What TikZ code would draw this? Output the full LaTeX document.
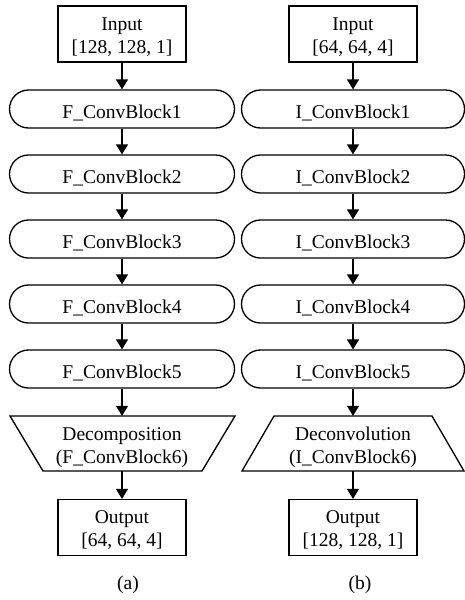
\documentclass[tikz,border=0pt]{standalone}
\usepackage{fontspec}
\setmainfont{Liberation Serif}
\usetikzlibrary{arrows.meta}
\begin{document}
\begin{tikzpicture}[x=1pt,y=-1pt,
  every node/.style={font=\fontsize{19.5}{23}\selectfont, inner sep=0pt, align=center},
  iobox/.style={draw, line width=1.3pt, minimum width=128pt, minimum height=56pt,
    text height=38pt, text depth=0pt},
  block/.style={draw, line width=1.3pt, minimum width=225pt, minimum height=38pt, rounded corners=19pt,
    text height=18.6pt, text depth=0pt},
  trapbox/.style={minimum width=160pt, minimum height=55pt, text height=39pt, text depth=0pt},
  flow/.style={-{Triangle[length=10pt,width=12pt]}, line width=1.3pt},
  shape edge/.style={line width=1.3pt, line join=miter}
]
\useasboundingbox (0,0) rectangle (465,600);

% column (a)
\node[iobox] (fin) at (122,34) {Input\\{}[128, 128, 1]};
\foreach \i/\y in {1/109,2/174,3/239,4/304,5/369}
  \node[block] (fb\i) at (122,\y) {F\_ConvBlock\i};
\node[trapbox] (fdec) at (122,443.5) {Decomposition\\(F\_ConvBlock6)};
\draw[shape edge] (10,416) -- (235,416) -- (202,471) -- (43,471) -- cycle;
\node[iobox] (fout) at (122,527.5) {Output\\{}[64, 64, 4]};
\node (la) at (128,585) {(a)};

\draw[flow] (fin) -- (fb1);
\draw[flow] (fb1) -- (fb2);
\draw[flow] (fb2) -- (fb3);
\draw[flow] (fb3) -- (fb4);
\draw[flow] (fb4) -- (fb5);
\draw[flow] (fb5) -- (fdec);
\draw[flow] (fdec) -- (fout);

% column (b)
\node[iobox] (iin) at (353,34) {Input\\{}[64, 64, 4]};
\foreach \i/\y in {1/109,2/174,3/239,4/304,5/369}
  \node[block, minimum width=223pt] (ib\i) at (353,\y) {I\_ConvBlock\i};
\node[trapbox] (idec) at (353,443.5) {Deconvolution\\(I\_ConvBlock6)};
\draw[shape edge] (274,416) -- (432,416) -- (464,471) -- (242,471) -- cycle;
\node[iobox] (iout) at (353,527.5) {Output\\{}[128, 128, 1]};
\node (lb) at (360,585) {(b)};

\draw[flow] (iin) -- (ib1);
\draw[flow] (ib1) -- (ib2);
\draw[flow] (ib2) -- (ib3);
\draw[flow] (ib3) -- (ib4);
\draw[flow] (ib4) -- (ib5);
\draw[flow] (ib5) -- (idec);
\draw[flow] (idec) -- (iout);
\end{tikzpicture}
\end{document}
